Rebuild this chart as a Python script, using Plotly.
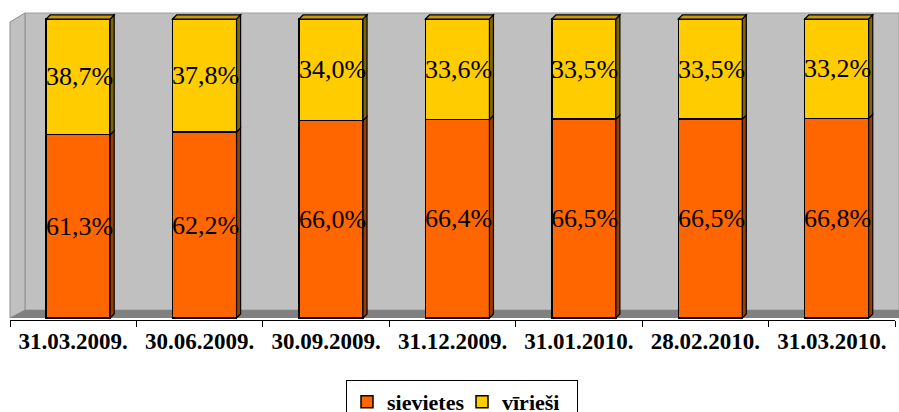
import plotly.graph_objects as go

categories = ["31.03.2009.", "30.06.2009.", "30.09.2009.", "31.12.2009.",
              "31.01.2010.", "28.02.2010.", "31.03.2010."]
sievietes = [61.3, 62.2, 66.0, 66.4, 66.5, 66.5, 66.8]
viriesi = [38.7, 37.8, 34.0, 33.6, 33.5, 33.5, 33.2]
series_names = ["sievietes", "vīrieši"]
front_colors = ["#FF6600", "#FFCC00"]
side_colors = ["#993D00", "#806600"]
top_colors = ["#B34700", "#C89B00"]

FONT = "'Liberation Serif', 'Times New Roman', Times, serif"
OFF = -0.214
W = 0.506
DX = 0.032
DY = 1.35

L, R, T, B = 10, 4, 10, 92
WIDTH, HEIGHT = 899, 412
plot_h = HEIGHT - T - B
unit = 299 / 100.0
y0r = -2 / unit
y1r = y0r + plot_h / unit

def px2paper_x(px):
    return (px - L) / (WIDTH - L - R)

def px2paper_y(py):
    return (HEIGHT - B - py) / plot_h

fig = go.Figure()
for name, vals, col in zip(series_names, [sievietes, viriesi], front_colors):
    fig.add_trace(go.Bar(
        name=f"<b>{name}</b>", x=categories, y=vals, offset=OFF, width=W,
        marker=dict(color=col, line=dict(color="black", width=1.5)),
        hoverinfo="skip",
    ))

shapes = []
wall_x0, wall_x1 = px2paper_x(25), px2paper_x(899)
shapes.append(dict(type="rect", xref="paper", yref="paper", layer="below",
                   x0=wall_x0, x1=wall_x1, y0=px2paper_y(310), y1=px2paper_y(13),
                   fillcolor="#C0C0C0", line=dict(color="#A0A0A0", width=1)))
shapes.append(dict(type="path", xref="paper", yref="paper", layer="below",
                   path=f"M{px2paper_x(10)},{px2paper_y(22)} L{wall_x0},{px2paper_y(13)} "
                        f"L{wall_x0},{px2paper_y(310)} L{px2paper_x(10)},{px2paper_y(318)} Z",
                   fillcolor="#C0C0C0", line=dict(color="#8C8C8C", width=1)))
shapes.append(dict(type="path", xref="paper", yref="paper", layer="below",
                   path=f"M{px2paper_x(10)},{px2paper_y(318)} L{wall_x0},{px2paper_y(310)} "
                        f"L{wall_x1},{px2paper_y(310)} L{wall_x1},{px2paper_y(318)} Z",
                   fillcolor="#808080", line=dict(width=0)))

annotations = []
for i in range(len(categories)):
    base = 0.0
    stack = [sievietes[i], viriesi[i]]
    xl = i + OFF
    xr = xl + W
    for k, v in enumerate(stack):
        top = base + v
        shapes.append(dict(type="path", xref="x", yref="y", layer="above",
                           path=f"M{xr},{base} L{xr+DX},{base+DY} L{xr+DX},{top+DY} L{xr},{top} Z",
                           fillcolor=side_colors[k], line=dict(color="black", width=1.2)))
        if k == len(stack) - 1:
            shapes.append(dict(type="path", xref="x", yref="y", layer="above",
                               path=f"M{xl},{top} L{xl+DX},{top+DY} L{xr+DX},{top+DY} L{xr},{top} Z",
                               fillcolor=top_colors[k], line=dict(color="black", width=1.2)))
        annotations.append(dict(
            x=i + OFF + W / 2, y=base + v / 2, xref="x", yref="y",
            text=f"{v:.1f}%".replace(".", ","), showarrow=False, xshift=1,
            font=dict(family=FONT, size=26, color="black"),
        ))
        base = top

fig.update_layout(
    width=WIDTH, height=HEIGHT,
    margin=dict(l=L, r=R, t=T, b=B, autoexpand=False),
    barmode="stack",
    paper_bgcolor="white", plot_bgcolor="rgba(0,0,0,0)",
    shapes=shapes, annotations=annotations,
    showlegend=True,
    legend=dict(orientation="h", x=px2paper_x(346), y=px2paper_y(380),
                xanchor="left", yanchor="top",
                bordercolor="black", borderwidth=1, bgcolor="white",
                font=dict(family=FONT, size=22, color="black"),
                itemwidth=30, traceorder="normal", tracegroupgap=0,
                entrywidth=70, entrywidthmode="pixels"),
    xaxis=dict(type="category", range=[-0.5, len(categories) - 0.5],
               automargin=False,
               showline=True, linecolor="black", linewidth=1,
               ticks="outside", tickson="boundaries", ticklen=6, tickcolor="black",
               tickfont=dict(family=FONT, size=23, color="black"),
               showgrid=False, zeroline=False, fixedrange=True),
    yaxis=dict(range=[y0r, y1r], visible=False, showgrid=False, zeroline=False,
               automargin=False),
)
fig.update_xaxes(tickprefix="<b>", ticksuffix="</b>")

fig.write_html("out.html", config={"displayModeBar": False},
               post_script="document.body.style.margin='0px';document.body.style.overflow='hidden';")
